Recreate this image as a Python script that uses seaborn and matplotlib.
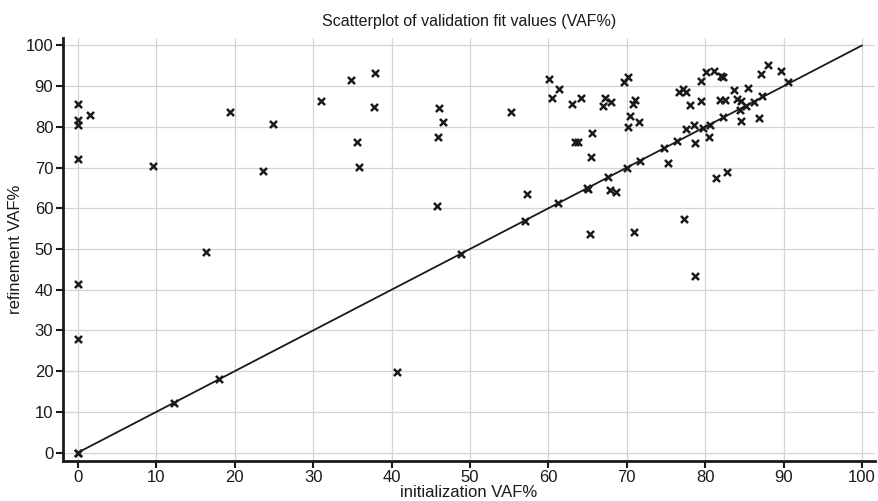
import pandas as pd
import matplotlib
matplotlib.use("Agg")
import matplotlib.pyplot as plt
import seaborn as sns

# --- DATA ---
init_vaf = [
    0.0, 0.0, 0.0, 0.0, 0.0, 0.0, 0.0, 0.0, 1.5, 9.6, 12.2, 16.3, 18.0, 19.4,
    23.6, 24.9, 31.0, 34.8, 35.6, 35.8, 37.8, 37.9, 40.7, 45.8, 45.9, 46.1,
    46.6, 48.8, 55.2, 57.0, 57.3, 60.1, 60.5, 61.2, 61.3, 63.0, 63.4, 63.8,
    64.1, 64.9, 65.1, 65.3, 65.4, 65.5, 66.9, 67.2, 67.6, 67.9, 68.0, 68.6,
    69.7, 70.0, 70.1, 70.2, 70.4, 70.8, 70.9, 71.0, 71.5, 71.7, 74.7, 75.3,
    76.4, 76.7, 77.2, 77.3, 77.5, 77.6, 78.0, 78.6, 78.7, 78.7, 79.4, 79.5,
    79.7, 80.1, 80.5, 80.6, 81.1, 81.4, 81.9, 82.0, 82.3, 82.3, 82.5, 82.8,
    83.7, 84.0, 84.4, 84.5, 84.6, 85.2, 85.5, 86.2, 86.9, 87.1, 87.3, 88.0,
    89.6, 90.5,
]
refine_vaf = [
    0.0, 27.8, 41.5, 72.2, 80.4, 81.8, 85.7, 0.0, 83.0, 70.3, 12.1, 49.3, 18.0, 83.6,
    69.1, 80.8, 86.3, 91.4, 76.3, 70.2, 84.9, 93.3, 19.8, 60.6, 77.4, 84.7,
    81.2, 48.7, 83.6, 56.9, 63.5, 91.8, 87.0, 61.2, 89.4, 85.5, 76.2, 76.2,
    87.1, 65.0, 64.8, 53.6, 72.6, 78.6, 85.0, 87.2, 67.6, 64.4, 86.2, 64.1,
    91.0, 70.0, 80.0, 92.2, 82.6, 85.7, 54.1, 86.7, 81.3, 71.5, 74.7, 71.0,
    76.5, 88.5, 89.3, 57.3, 79.5, 88.5, 85.3, 80.4, 76.0, 43.4, 86.3, 91.3,
    79.8, 93.4, 77.6, 80.5, 93.8, 67.5, 86.7, 92.6, 92.2, 82.3, 86.6, 68.9,
    89.1, 86.8, 84.2, 86.3, 81.4, 85.0, 89.5, 86.2, 82.1, 93.0, 87.6, 95.3,
    93.8, 91.0,
]
diag_x = [0, 100]
diag_y = [0, 100]
ticks = list(range(0, 101, 10))

df = pd.DataFrame({"init": init_vaf, "refine": refine_vaf})

# --- PLOT ---
sns.set_theme(style="whitegrid")
plt.rcParams["font.family"] = ["Liberation Sans", "DejaVu Sans"]

fig = plt.figure(figsize=(8.79, 5.01), dpi=100)
ax = fig.add_axes([0.0717, 0.0804, 0.9233, 0.8436])

ax.plot(diag_x, diag_y, color="#1a1a1a", linewidth=1.3, zorder=2)
sns.scatterplot(data=df, x="init", y="refine", marker="x", s=26,
                color="#1a1a1a", linewidth=1.8, ax=ax, zorder=3)

ax.set_xlim(-1.9, 101.6)
ax.set_ylim(-2.0, 101.8)
ax.set_xticks(ticks)
ax.set_yticks(ticks)
ax.tick_params(axis="both", labelsize=12, length=5, width=1.5,
               color="#1a1a1a", labelcolor="#1a1a1a", direction="out",
               left=True, bottom=True, pad=2)
ax.grid(True, color="#d4d4d4", linewidth=0.9)
ax.set_facecolor("white")

for side in ["top", "right"]:
    ax.spines[side].set_visible(False)
for side in ["left", "bottom"]:
    ax.spines[side].set_color("#1a1a1a")
    ax.spines[side].set_linewidth(2.0)

ax.set_title("Scatterplot of validation fit values (VAF%)", fontsize=11.5,
             color="#1a1a1a", pad=9)
ax.set_xlabel("initialization VAF%", fontsize=12, color="#1a1a1a", labelpad=0)
ax.set_ylabel("refinement VAF%", fontsize=12, color="#1a1a1a", labelpad=2)

fig.savefig("out.png", dpi=100, facecolor="white")
